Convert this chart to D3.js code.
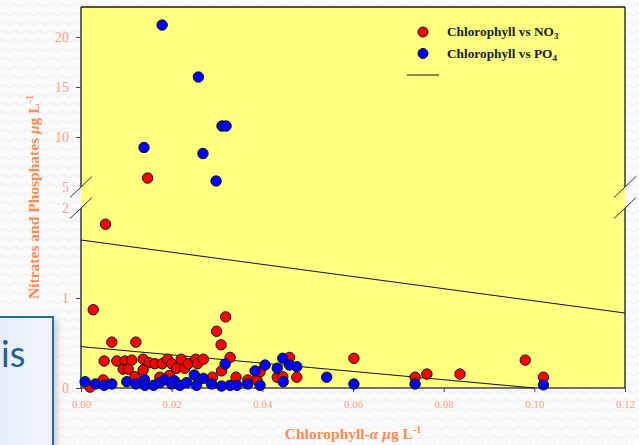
<!DOCTYPE html>
<html>
<head>
<meta charset="utf-8">
<script src="https://cdn.jsdelivr.net/npm/d3@7"></script>
<style>
  body { margin: 0; background: #f9f9f9; overflow: hidden; }
  svg { display: block; }
</style>
</head>
<body>
<script>
// chlorophyll-a (x) vs nitrate (y)
const chlNO3 = [0.0027, 0.0054, 0.0147, 0.0068, 0.0121, 0.0319, 0.0299, 0.0309, 0.0051, 0.0079,
  0.0097, 0.0112, 0.0093, 0.0104, 0.0137, 0.0150, 0.0163, 0.0179, 0.0191, 0.0200,
  0.0211, 0.0221, 0.0229, 0.0237, 0.0253, 0.0257, 0.0270, 0.0137, 0.0119, 0.0310,
  0.0329, 0.0290, 0.0342, 0.0368, 0.0388, 0.0049, 0.0020, 0.0174, 0.0395, 0.0433,
  0.0445, 0.0460, 0.0476, 0.0602, 0.0980, 0.0763, 0.0836, 0.0737, 0.1020, 0.0195];
const valNO3 = [0.87, 1.82, 5.9, 0.51, 0.51, 0.79, 0.63, 0.48, 0.30, 0.30,
  0.30, 0.31, 0.21, 0.21, 0.32, 0.28, 0.27, 0.27, 0.32, 0.27,
  0.22, 0.32, 0.22, 0.27, 0.32, 0.27, 0.32, 0.20, 0.125, 0.19,
  0.34, 0.12, 0.12, 0.09, 0.09, 0.09, 0.01, 0.12, 0.18, 0.12,
  0.125, 0.34, 0.12, 0.33, 0.31, 0.155, 0.155, 0.12, 0.12, 0.14];

// chlorophyll-a (x) vs phosphate (y)
const chlPO4 = [0.0179, 0.0259, 0.0311, 0.0320, 0.0269, 0.0139, 0.0298,
  0.0009, 0.0032, 0.0051, 0.0068, 0.0101, 0.0121, 0.0140, 0.0141, 0.0160, 0.0174,
  0.0185, 0.0200, 0.0206, 0.0218, 0.0233, 0.0250, 0.0255, 0.0270, 0.0288, 0.0310,
  0.0318, 0.0329, 0.0344, 0.0368, 0.0384, 0.0395, 0.0406, 0.0433, 0.0445, 0.0460,
  0.0476, 0.0446, 0.0542, 0.0602, 0.0737, 0.1020];
const valPO4 = [21.2, 16.0, 11.1, 11.1, 8.35, 8.95, 5.6,
  0.07, 0.045, 0.03, 0.045, 0.07, 0.045, 0.095, 0.03, 0.03, 0.06,
  0.09, 0.045, 0.08, 0.03, 0.06, 0.145, 0.03, 0.107, 0.045, 0.022,
  0.267, 0.03, 0.03, 0.045, 0.19, 0.03, 0.255, 0.22, 0.33, 0.255,
  0.237, 0.07, 0.12, 0.045, 0.045, 0.035];

// regression lines (end points)
const fitNO3 = [[0, 1.644], [0.12, 0.833]];
const fitPO4 = [[0, 0.46], [0.10, 0.0]];

const xTicks = [0, 0.02, 0.04, 0.06, 0.08, 0.10, 0.12];
const yTicks = [0, 1, 2, 5, 10, 15, 20];
const yBreaks = [2, 5];

const width = 639;
const height = 445;
const plotL = 81, plotR = 625, plotT = 7, plotB = 388;

const svg = d3.select("body").append("svg")
  .attr("width", width)
  .attr("height", height);

// faint wavy slide background
const defs = svg.append("defs");
defs.append("pattern")
  .attr("id", "waves")
  .attr("width", 12).attr("height", 9)
  .attr("patternUnits", "userSpaceOnUse")
  .append("path")
  .attr("d", "M0 5 Q3 2 6 5 T12 5")
  .attr("fill", "none")
  .attr("stroke", "#ececec")
  .attr("stroke-width", 1);
svg.append("rect").attr("width", width).attr("height", height).attr("fill", "#fafafa");
svg.append("rect").attr("width", width).attr("height", height).attr("fill", "url(#waves)");

const x = d3.scaleLinear().domain([0, 0.12]).range([plotL, plotR]);
// broken axis: 0-2 in the lower panel, 5-23 in the upper one
const y = d3.scaleLinear().domain([0, 2, 5, 23]).range([plotB, 208, 187, plotT]);

svg.append("rect")
  .attr("x", plotL).attr("y", plotT)
  .attr("width", plotR - plotL).attr("height", plotB - plotT)
  .attr("fill", "#ffff80");

// frame with gaps at the break
const frame = svg.append("g").attr("stroke", "#1a1a1a").attr("stroke-width", 1.3).attr("fill", "none");
frame.append("path").attr("d", `M${plotL},${plotT}H${plotR}`);
frame.append("path").attr("d", `M${plotL},${plotB}H${plotR}`).attr("stroke", "#444");
[plotL, plotR].forEach(px => {
  frame.append("path").attr("d", `M${px},${plotT}V${y(5)}M${px},${y(2)}V${plotB}`);
});

// break marks
const breaks = svg.append("g").attr("stroke", "#333").attr("stroke-width", 1);
[plotL, plotR].forEach(px => {
  yBreaks.forEach(v => {
    breaks.append("line")
      .attr("x1", px - 11).attr("y1", y(v) + 10.5)
      .attr("x2", px + 11).attr("y2", y(v) - 10.5);
  });
});

const tickColor = "#ffa07a";
const titleColor = "#fb8b57";

const yAxis = svg.append("g")
  .attr("transform", `translate(${plotL},0)`)
  .call(d3.axisLeft(y).tickValues(yTicks).tickSize(5).tickPadding(7).tickFormat(d3.format("d")));
yAxis.select(".domain").remove();
yAxis.selectAll(".tick line").attr("stroke", "#444").filter(d => yBreaks.includes(d)).remove();
yAxis.selectAll("text")
  .attr("fill", tickColor)
  .style("font", "14px 'Liberation Serif', serif");

const xAxis = svg.append("g")
  .attr("transform", `translate(0,${plotB})`)
  .call(d3.axisBottom(x).tickValues(xTicks).tickSize(4).tickPadding(8).tickFormat(d3.format(".2f")));
xAxis.select(".domain").remove();
xAxis.selectAll(".tick line").attr("stroke", "#444");
xAxis.selectAll("text")
  .attr("fill", tickColor)
  .style("font", "11px 'Liberation Serif', serif");

// regression lines
const line = d3.line().x(d => x(d[0])).y(d => y(d[1]));
[fitNO3, fitPO4].forEach(f => {
  svg.append("path").attr("d", line(f))
    .attr("fill", "none").attr("stroke", "#111").attr("stroke-width", 1);
});

// points
const no3 = chlNO3.map((c, i) => [c, valNO3[i]]);
const po4 = chlPO4.map((c, i) => [c, valPO4[i]]);

svg.append("g").selectAll("circle").data(no3).join("circle")
  .attr("cx", d => x(d[0])).attr("cy", d => y(d[1])).attr("r", 5.2)
  .attr("fill", "#ff0000").attr("stroke", "#111").attr("stroke-width", 1);

svg.append("g").selectAll("circle").data(po4).join("circle")
  .attr("cx", d => x(d[0])).attr("cy", d => y(d[1])).attr("r", 5.2)
  .attr("fill", "#0000ff").attr("stroke", "#111").attr("stroke-width", 1);

// legend
const legend = svg.append("g").style("font", "bold 13.3px 'Liberation Serif', serif").attr("fill", "#1a1a1a");
const legItems = [["#ff0000", "Chlorophyll vs NO", "3"], ["#0000ff", "Chlorophyll vs PO", "4"]];
legItems.forEach((it, i) => {
  const cy = 32 + i * 21.5;
  legend.append("circle").attr("cx", 423).attr("cy", cy).attr("r", 5)
    .attr("fill", it[0]).attr("stroke", "#111").attr("stroke-width", 1);
  const t = legend.append("text").attr("x", 447).attr("y", cy + 4).text(it[1]);
  t.append("tspan").attr("font-size", "9px").attr("dy", 3).text(it[2]);
});
legend.append("line").attr("x1", 407).attr("x2", 439).attr("y1", 75).attr("y2", 75)
  .attr("stroke", "#111").attr("stroke-width", 1);

// axis titles
const xTitle = svg.append("text")
  .attr("x", (plotL + plotR) / 2).attr("y", 439)
  .attr("text-anchor", "middle")
  .attr("fill", titleColor)
  .style("font", "bold 15.5px 'Liberation Serif', serif");
xTitle.append("tspan").text("Chlorophyll-");
xTitle.append("tspan").attr("font-style", "italic").text("α ");
xTitle.append("tspan").attr("font-style", "italic").text("μ");
xTitle.append("tspan").text("g L");
xTitle.append("tspan").attr("font-size", "10px").attr("dy", -6).text("-1");

const yTitle = svg.append("text")
  .attr("transform", "translate(39,197) rotate(-90)")
  .attr("text-anchor", "middle")
  .attr("fill", titleColor)
  .style("font", "bold 15.5px 'Liberation Serif', serif");
yTitle.append("tspan").text("Nitrates and Phosphates ");
yTitle.append("tspan").attr("font-style", "italic").text("μ");
yTitle.append("tspan").text("g L");
yTitle.append("tspan").attr("font-size", "10px").attr("dy", -6).text("-1");

// overlapping slide text box in the corner
const grad = defs.append("linearGradient").attr("id", "boxfill").attr("x1", 0).attr("x2", 1);
grad.append("stop").attr("offset", "0%").attr("stop-color", "#dfeaf8");
grad.append("stop").attr("offset", "100%").attr("stop-color", "#f3f7fd");
defs.append("filter").attr("id", "shadow").attr("x", "-20%").attr("width", "140%")
  .append("feGaussianBlur").attr("stdDeviation", 2.5);
svg.append("rect").attr("x", -20).attr("y", 320).attr("width", 78).attr("height", 140)
  .attr("fill", "#bbb").attr("opacity", 0.6).attr("filter", "url(#shadow)");
svg.append("rect").attr("x", -20).attr("y", 317).attr("width", 73).attr("height", 140)
  .attr("fill", "url(#boxfill)").attr("stroke", "#1d6fa3").attr("stroke-width", 2);
svg.append("text").attr("x", 1).attr("y", 367)
  .attr("fill", "#1f5f96")
  .style("font", "36px Lato, 'Open Sans', sans-serif")
  .text("is");
</script>
</body>
</html>
